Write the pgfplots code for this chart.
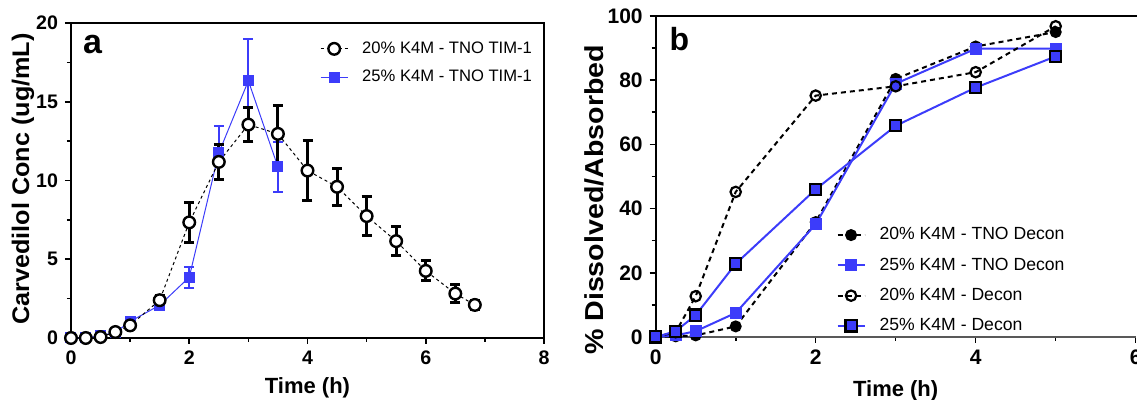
\documentclass[border=0pt]{standalone}
\usepackage{pgfplots}
\pgfplotsset{compat=1.18}
\usepackage{pgfplotstable}
\usepackage{fontspec}
\setmainfont{Liberation Sans}
\definecolor{pblue}{RGB}{60,60,250}

\pgfplotstableread{
t c e
0 0 0
0.25 0 0
0.5 0.06 0.05
0.75 0.38 0.1
1.0 0.8 0.2
1.5 2.4 0.3
2.0 7.34 1.26
2.5 11.18 1.13
3.0 13.55 1.1
3.5 12.96 1.82
4.0 10.63 1.92
4.5 9.6 1.17
5.0 7.74 1.23
5.5 6.15 0.94
6.0 4.26 0.63
6.5 2.82 0.56
6.83 2.1 0.3
}\twentyA

\pgfplotstableread{
t c e
0 0 0
0.25 0 0
0.5 0.15 0.05
0.75 0.35 0.1
1.0 1.05 0.2
1.5 2.08 0.2
2.0 3.86 0.67
2.5 11.75 1.68
3.0 16.33 2.63
3.5 10.86 1.6
}\twentyfiveA

\pgfplotstableread{
t v
0 0
0.25 0.2
0.5 0.5
1.0 3.3
2.0 35.8
3.0 80.4
4.0 90.5
5.0 95.0
}\tnoTwenty

\pgfplotstableread{
t v
0 0
0.25 0.5
0.5 1.8
1.0 7.5
2.0 35.1
3.0 78.9
4.0 89.8
5.0 89.8
}\tnoTwentyfive

\pgfplotstableread{
t v
0 0
0.25 1.5
0.5 12.7
1.0 45.2
2.0 75.2
3.0 78.1
4.0 82.5
5.0 96.8
}\deconTwenty

\pgfplotstableread{
t v
0 0
0.25 1.8
0.5 6.8
1.0 22.8
2.0 46.0
3.0 65.8
4.0 77.7
5.0 87.4
}\deconTwentyfive

\pgfplotsset{
  myleg/.style={legend image code/.code={\draw[mark repeat=2,mark phase=2,##1] plot coordinates {(0pt,0pt) (6.75pt,0pt) (13.5pt,0pt)};}},
}

\begin{document}
\begin{tikzpicture}
% ---------------- panel a ----------------
\begin{axis}[
  scale only axis, width=236.5pt, height=157.5pt,
  at={(35.5pt,31pt)}, anchor=south west,
  xmin=0, xmax=8, ymin=0, ymax=20,
  xtick={0,2,4,6,8}, ytick={0,5,10,15,20},
  minor x tick num=1, minor y tick num=1,
  xtick pos=left, ytick pos=left, tick align=outside,
  major tick length=3pt, minor tick length=2pt,
  every tick/.style={black, line width=0.8pt},
  axis line style={line width=1.2pt},
  clip=false,
  /pgf/number format/assume math mode=true,
  ticklabel style={font=\bfseries\fontsize{9.8}{9.8}\selectfont},
  xlabel={Time (h)},
  ylabel={Carvedilol Conc (ug/mL)},
  xlabel style={font=\bfseries\fontsize{11}{11}\selectfont, at={(axis description cs:0.5,0)}, anchor=north, inner sep=0pt, yshift=-19.5pt},
  ylabel style={font=\bfseries\fontsize{12}{12}\selectfont, at={(axis description cs:-0.1015,0.505)}, anchor=center, xscale=1.05},
  myleg,
  reverse legend,
  legend style={draw=none, fill=none, at={(0.526,0.955)}, anchor=north west,
    font=\fontsize{8.3}{8.3}\selectfont, inner sep=0pt, row sep=3pt,
    /tikz/every odd column/.append style={column sep=5pt}},
  legend cell align=left,
]
\addplot[pblue, line width=0.5pt, mark=square*, mark size=2.5pt,
  mark options={fill=pblue, draw=pblue},
  error bars/.cd, y dir=both, y explicit,
  error bar style={line width=1pt, pblue},
  error mark options={rotate=90, mark size=2.5pt, line width=1pt, pblue}]
  table[x=t, y=c, y error=e] {\twentyfiveA};
\addplot[black, line width=0.5pt, dash pattern=on 1.5pt off 1.5pt,
  mark=*, mark size=2.9pt, mark options={solid, fill=white, draw=black, line width=1.2pt},
  error bars/.cd, y dir=both, y explicit,
  error bar style={solid, line width=1.5pt, black},
  error mark options={solid, rotate=90, mark size=2.5pt, line width=1.5pt, black}]
  table[x=t, y=c, y error=e] {\twentyA};
\legend{25\% K4M - TNO TIM-1, 20\% K4M - TNO TIM-1}
\node[anchor=north west, inner sep=0pt, font=\bfseries\fontsize{17}{17}\selectfont] at (rel axis cs:0.025,0.962) {a};
\end{axis}

% ---------------- panel b ----------------
\begin{axis}[
  scale only axis, width=240pt, height=160.5pt,
  at={(327.85pt,31.5pt)}, anchor=south west,
  xmin=0, xmax=6, ymin=0, ymax=100,
  xtick={0,2,4,6}, ytick={0,20,40,60,80,100},
  minor x tick num=1, minor y tick num=1,
  axis x line*=bottom, axis y line*=left,
  tick align=outside,
  major tick length=3pt, minor tick length=2pt,
  every tick/.style={black, line width=0.8pt},
  x axis line style={line width=1pt, black!65},
  y axis line style={line width=1pt, black},
  clip=false,
  /pgf/number format/assume math mode=true,
  ticklabel style={font=\bfseries\fontsize{10.5}{10.5}\selectfont},
  xlabel={Time (h)},
  ylabel={\% Dissolved/Absorbed},
  xlabel style={font=\bfseries\fontsize{11}{11}\selectfont, at={(axis description cs:0.5,0)}, anchor=north, inner sep=0pt, yshift=-21.5pt},
  ylabel style={font=\bfseries\fontsize{13}{13}\selectfont, at={(axis description cs:-0.1285,0.427)}, anchor=center, xscale=1.1},
  myleg,
  legend style={draw=none, fill=none, at={(0.376,0.355)}, anchor=north west,
    font=\fontsize{8.8}{8.8}\selectfont, inner sep=0pt, row sep=3.5pt,
    /tikz/every odd column/.append style={column sep=5pt}},
  legend cell align=left,
]
\addplot[black, line width=1pt, dash pattern=on 2.5pt off 2pt,
  mark=*, mark size=2.5pt, mark options={solid, fill=black}]
  table[x=t, y=v] {\tnoTwenty};
\addplot[pblue, line width=1pt, mark=square*, mark size=2.5pt,
  mark options={fill=pblue, draw=pblue}]
  table[x=t, y=v] {\tnoTwentyfive};
\addplot[black, line width=1pt, dash pattern=on 2.5pt off 2pt,
  mark=o, mark size=2.6pt, mark options={solid, line width=1.1pt}]
  table[x=t, y=v] {\deconTwenty};
\addplot[pblue, line width=1pt, mark=square*, mark size=2.8pt,
  mark options={fill=pblue, draw=black, line width=1.1pt}]
  table[x=t, y=v] {\deconTwentyfive};
\legend{20\% K4M - TNO Decon, 25\% K4M - TNO Decon, 20\% K4M - Decon, 25\% K4M - Decon}
\draw[line width=1.3pt] (rel axis cs:0,1) -- (rel axis cs:1.05,1);
\node[anchor=north west, inner sep=0pt, font=\bfseries\fontsize{16}{16}\selectfont] at (rel axis cs:0.028,0.966) {b};
\end{axis}

\pgfresetboundingbox
\useasboundingbox (0,0) rectangle (568.5pt,200pt);
\end{tikzpicture}
\end{document}
